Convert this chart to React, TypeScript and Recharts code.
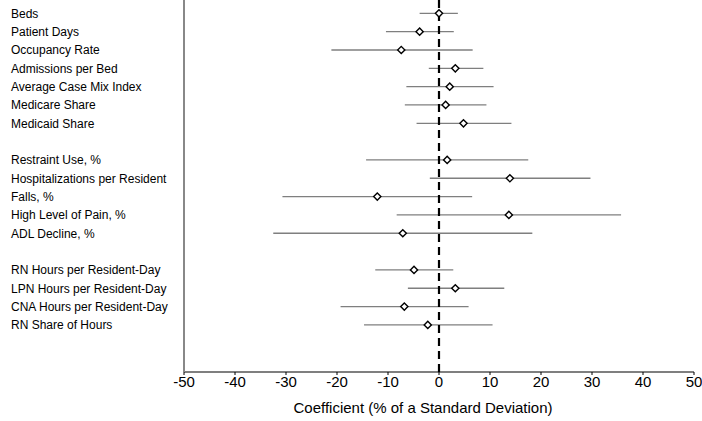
import React from 'react';
import { ScatterChart, Scatter, XAxis, YAxis, ErrorBar, ReferenceLine, Label } from 'recharts';

const FONT = '"Liberation Sans", Arial, Helvetica, sans-serif';

const rowLabels: string[] = [
  'Beds',
  'Patient Days',
  'Occupancy Rate',
  'Admissions per Bed',
  'Average Case Mix Index',
  'Medicare Share',
  'Medicaid Share',
  '',
  'Restraint Use, %',
  'Hospitalizations per Resident',
  'Falls, %',
  'High Level of Pain, %',
  'ADL Decline, %',
  '',
  'RN Hours per Resident-Day',
  'LPN Hours per Resident-Day',
  'CNA Hours per Resident-Day',
  'RN Share of Hours',
];

const estimates: (number | null)[] = [0.0, -3.8, -7.4, 3.2, 2.1, 1.3, 4.8, null, 1.6, 13.9, -12.1, 13.7, -7.1, null, -4.9, 3.2, -6.8, -2.2];
const lowerBounds: (number | null)[] = [-3.8, -10.4, -21.1, -2.0, -6.4, -6.7, -4.4, null, -14.3, -1.8, -30.7, -8.3, -32.5, null, -12.5, -6.1, -19.3, -14.7];
const upperBounds: (number | null)[] = [3.7, 2.9, 6.6, 8.7, 10.7, 9.3, 14.2, null, 17.5, 29.7, 6.5, 35.7, 18.3, null, 2.8, 12.8, 5.8, 10.5];

const xTicks: number[] = [-50, -40, -30, -20, -10, 0, 10, 20, 30, 40, 50];
const rowTicks: number[] = rowLabels.map((_, i) => i);

const rows = rowLabels
  .map((label, i) => {
    const est = estimates[i];
    const lo = lowerBounds[i];
    const hi = upperBounds[i];
    if (est === null || lo === null || hi === null) return null;
    return { row: i, label, est, err: [est - lo, hi - est] };
  })
  .filter((d) => d !== null) as { row: number; label: string; est: number; err: number[] }[];

const YTick = (props: any) => {
  const { y, payload } = props;
  return (
    <text x={11} y={y} dy="0.355em" fontSize={12} fill="#000" fontFamily={FONT} textAnchor="start">
      {rowLabels[payload.value]}
    </text>
  );
};

const Diamond = (props: any) => {
  const { cx, cy } = props;
  if (cx == null || cy == null) return <g />;
  const r = 3.6;
  return (
    <polygon
      points={`${cx},${cy - r} ${cx + r},${cy} ${cx},${cy + r} ${cx - r},${cy}`}
      fill="#fff"
      stroke="#000"
      strokeWidth={1.4}
    />
  );
};

const Empty = () => <g />;

const TitleLabel = (props: any) => {
  const vb = props.viewBox || {};
  const cx = (vb.x ?? 0) + (vb.width ?? 0) / 2 - 16;
  return (
    <text x={cx} y={413} textAnchor="middle" fontSize={15} fill="#000" fontFamily={FONT}>
      Coefficient (% of a Standard Deviation)
    </text>
  );
};

export default function App() {
  return (
    <div style={{ position: 'absolute', left: 0, top: 0, background: '#fff' }}>
      <ScatterChart width={702} height={421} margin={{ top: 0, right: 8, bottom: 0, left: 0 }}>
        <XAxis
          type="number"
          dataKey="est"
          domain={[-50, 50]}
          ticks={xTicks}
          interval={0}
          allowDataOverflow
          height={49}
          axisLine={{ stroke: '#000', strokeWidth: 1.2 }}
          tickLine={{ stroke: '#000', strokeWidth: 1 }}
          tickSize={3}
          tickMargin={1}
          tick={{ fontSize: 15, fill: '#000', fontFamily: FONT }}
        >
          <Label content={<TitleLabel />} />
        </XAxis>
        <YAxis
          type="number"
          dataKey="row"
          domain={[-0.727, 19.57]}
          reversed
          allowDataOverflow
          ticks={rowTicks}
          interval={0}
          width={184}
          axisLine={{ stroke: '#888', strokeWidth: 2 }}
          tickLine={false}
          tick={<YTick />}
        />
        <Scatter data={rows} shape={<Empty />} isAnimationActive={false}>
          <ErrorBar dataKey="err" direction="x" width={0} stroke="#7f7f7f" strokeWidth={1.3} isAnimationActive={false} />
        </Scatter>
        <ReferenceLine x={0} stroke="#000" strokeWidth={2.2} strokeDasharray="8 5" />
        <Scatter data={rows} shape={<Diamond />} isAnimationActive={false} />
      </ScatterChart>
    </div>
  );
}
